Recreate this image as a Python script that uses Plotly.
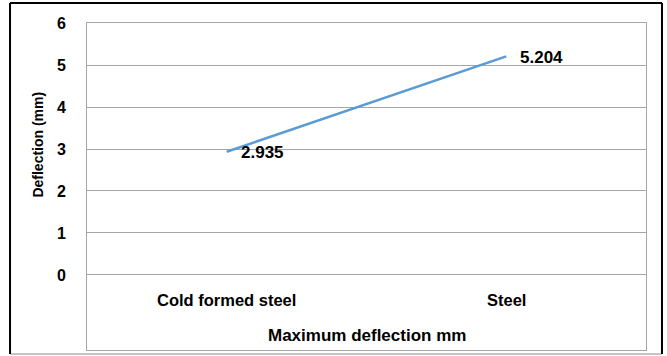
import plotly.graph_objects as go

# Maximum deflection for each member type
categories = ["Cold formed steel", "Steel"]
deflection = [2.935, 5.204]
y_ticks = [0, 1, 2, 3, 4, 5, 6]

FONT = "Liberation Sans, Arial, sans-serif"
GRID = "#a6a6a6"
BLUE = "#5b9bd5"

x_idx = list(range(len(categories)))

fig = go.Figure()
fig.add_trace(go.Scatter(
    x=x_idx, y=deflection, mode="lines",
    line=dict(color=BLUE, width=2.5),
    hoverinfo="skip", showlegend=False,
))

# value labels to the right of each point
for xi, v in zip(x_idx, deflection):
    fig.add_annotation(
        x=xi, y=v, xref="x", yref="y", text=f"<b>{v:.3f}</b>",
        showarrow=False, xanchor="left", yanchor="middle", xshift=12, yshift=-1,
        font=dict(family=FONT, size=17, color="#000000"),
    )

# category labels inside the lower band of the plot box
for xi, c in zip(x_idx, categories):
    fig.add_annotation(
        x=xi, y=-0.6, xref="x", yref="y", text=f"<b>{c}</b>",
        showarrow=False, xanchor="center", yanchor="middle",
        font=dict(family=FONT, size=16.5, color="#000000"),
    )

# axis titles
fig.add_annotation(
    x=0.5, y=-1.45, xref="paper", yref="y", text="<b>Maximum deflection mm</b>",
    showarrow=False, xanchor="center", yanchor="middle",
    font=dict(family=FONT, size=17, color="#000000"),
)
fig.add_annotation(
    x=-0.088, y=3.1, xref="paper", yref="y", text="<b>Deflection (mm)</b>",
    showarrow=False, textangle=-90, xanchor="center", yanchor="middle",
    font=dict(family=FONT, size=14, color="#000000"),
)

# outer chart frame
frame = dict(xref="paper", yref="paper", layer="above")
x0, x1, y0, y1 = -0.1377, 1.0286, -0.0122, 1.0612
fig.add_shape(type="line", x0=x0, x1=x1, y0=y0, y1=y0, line=dict(color="#b0b0b0", width=1.5), **frame)
fig.add_shape(type="line", x0=x0, x1=x0, y0=y0, y1=y1, line=dict(color="#000000", width=2), **frame)
fig.add_shape(type="line", x0=x1, x1=x1, y0=y0, y1=y1, line=dict(color="#000000", width=2), **frame)
fig.add_shape(type="line", x0=x0, x1=x1, y0=y1, y1=y1, line=dict(color="#000000", width=2), **frame)

fig.update_xaxes(
    range=[-0.5, 1.5], showticklabels=False, showgrid=False, zeroline=False,
    showline=True, linecolor=GRID, linewidth=1, mirror=True, ticks="",
)
fig.update_yaxes(
    range=[-1.786, 6], tickvals=y_ticks, ticktext=[f"<b>{t}</b>" for t in y_ticks],
    showgrid=True, gridcolor=GRID, gridwidth=1, zeroline=False,
    showline=True, linecolor=GRID, linewidth=1, mirror=True, ticks="",
    ticklabelstandoff=17,
    tickfont=dict(family=FONT, size=16, color="#000000"),
)

fig.update_layout(
    width=667, height=356,
    margin=dict(l=87, r=21, t=23, b=6),
    paper_bgcolor="#ffffff", plot_bgcolor="#ffffff",
)

fig.write_html("out.html", config={"displayModeBar": False})
